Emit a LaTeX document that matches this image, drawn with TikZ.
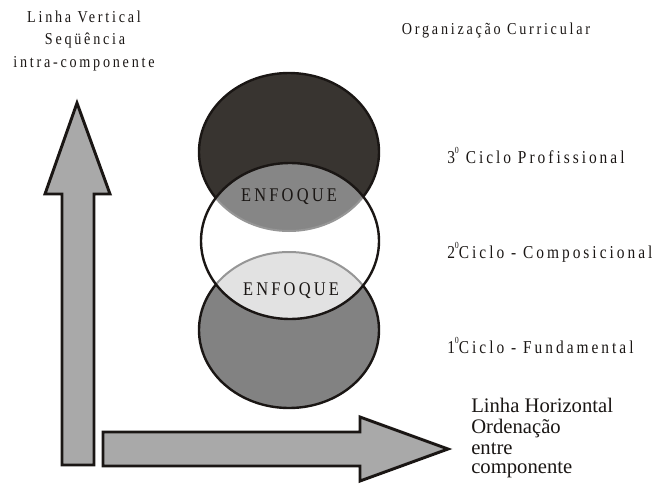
\documentclass[tikz,border=0pt]{standalone}
\usepackage{fontspec}
\setmainfont{Liberation Serif}
\newfontfamily\spacedfont[FakeStretch=0.85,LetterSpace=16.5]{Liberation Serif}
\usetikzlibrary{calc}

\definecolor{ink}{RGB}{26,22,20}
\definecolor{arrowgray}{RGB}{169,169,169}
\definecolor{darktop}{RGB}{56,52,48}
\definecolor{lowgray}{RGB}{130,130,130}
\definecolor{lensgray}{RGB}{134,134,134}
\definecolor{lenslight}{RGB}{226,226,226}
\definecolor{lensedge}{RGB}{150,150,150}

\newcommand{\ordsup}[1]{\raisebox{0.55em}{\fontsize{7}{8}\selectfont #1}}

\tikzset{
	ring/.style={draw=ink,line width=1.8pt},
	blockarrow/.style={draw=ink,fill=arrowgray,line width=2.2pt},
	caption/.style={font=\spacedfont\fontsize{12.5}{14}\selectfont,inner sep=0pt,anchor=base,text=ink},
	cycle label/.style={font=\spacedfont\fontsize{13.6}{15}\selectfont,inner sep=0pt,anchor=base west,text=ink},
	enfoque/.style={font=\spacedfont\fontsize{14.5}{16}\selectfont,inner sep=0pt,anchor=base,text=ink},
	plainlbl/.style={font=\fontsize{15.5}{16}\selectfont,inner sep=0pt,anchor=base west,text=ink}
}

\begin{document}
\begin{tikzpicture}[x=0.75pt,y=-0.75pt]
	\useasboundingbox (0,0) rectangle (656,492);
	%    \draw[step=50,gray,very thin] (0,0) grid (656,492);
	
	\draw[blockarrow] (77,103) -- (110,194) -- (94,194) -- (94,465) -- (62,465) -- (62,194) -- (45,194) -- cycle;
	\draw[blockarrow] (103,432) -- (360,432) -- (360,417) -- (448,449) -- (360,481) -- (360,466) -- (103,466) -- cycle;
	
	\filldraw[fill=darktop,ring] (289,152) ellipse [x radius=90,y radius=79];
	\filldraw[fill=lowgray,ring] (289,330) ellipse [x radius=90,y radius=78];
	\fill[white] (290,241) ellipse [x radius=89,y radius=78];
	\begin{scope}
		\clip (290,241) ellipse [x radius=89,y radius=78];
		\filldraw[fill=lensgray,draw=lensedge,line width=1.5pt] (289,152) ellipse [x radius=90,y radius=79];
		\filldraw[fill=lenslight,draw=lensedge,line width=1.5pt] (289,330) ellipse [x radius=90,y radius=78];
	\end{scope}
	\draw[ring] (290,241) ellipse [x radius=89,y radius=78];
	
	\node[enfoque] (enf1) at (289,201) {ENFOQUE};
	\node[enfoque] (enf2) at (291,295) {ENFOQUE};
	
	\node[caption] (lv1) at (84,23) {Linha Vertical};
	\node[caption] (lv2) at (85,45) {Seqüência};
	\node[caption] (lv3) at (84,68) {intra-componente};
	
	\node[caption] (org) at (496,35) {Organização Curricular};
	
	\node[cycle label] (c3) at (447,163) {3\ordsup{0} Ciclo Profissional};
	\node[cycle label] (c2) at (447,258) {2\ordsup{0}Ciclo - Composicional};
	\node[cycle label] (c1) at (447,353) {1\ordsup{0}Ciclo - Fundamental};
	
	\node[plainlbl] (lh1) at (471,412) {Linha Horizontal};
	\node[plainlbl] (lh2) at (471,433) {Ordenação};
	\node[plainlbl] (lh3) at (471,454) {entre};
	\node[plainlbl] (lh4) at (471,473) {componente};
	
\end{tikzpicture}
\end{document}
